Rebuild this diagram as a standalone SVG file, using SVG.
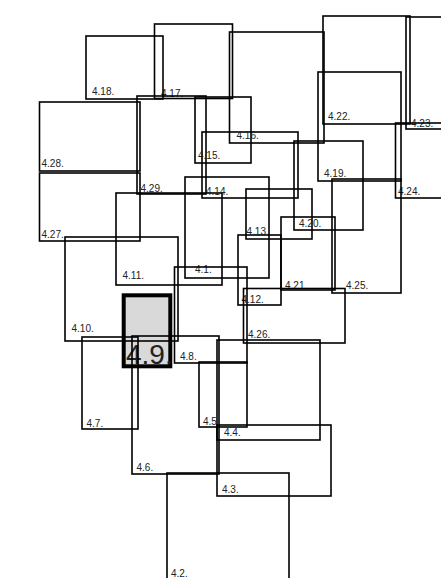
<svg xmlns="http://www.w3.org/2000/svg" width="441" height="578" viewBox="0 0 441 578">
<style>
.b{fill:none;stroke:#000;stroke-width:1.6}
.t{font-family:"Liberation Sans",Arial,sans-serif;font-size:10px;fill:#222}
.hb{fill:#d9d9d9;stroke:#000;stroke-width:4}
.ht{font-family:"Liberation Sans",Arial,sans-serif;font-size:28px;fill:#222}
</style>
<rect width="441" height="578" fill="#fff"/>
<g id="n4-9"><rect class="hb" x="123.7" y="295.3" width="46.6" height="71"/><text class="ht" x="126" y="364">4.9.</text></g>
<g id="n4-1"><rect class="b" x="185" y="177" width="84" height="101"/><text class="t" x="195" y="273">4.1.</text></g>
<g id="n4-2"><rect class="b" x="167" y="473" width="122" height="109"/><text class="t" x="171" y="577">4.2.</text></g>
<g id="n4-3"><rect class="b" x="217" y="425" width="114" height="71"/><text class="t" x="222" y="493">4.3.</text></g>
<g id="n4-4"><rect class="b" x="217" y="340" width="103" height="100"/><text class="t" x="224" y="436">4.4.</text></g>
<g id="n4-5"><rect class="b" x="199" y="362" width="48" height="65"/><text class="t" x="203" y="425">4.5.</text></g>
<g id="n4-6"><rect class="b" x="132" y="336" width="87" height="138"/><text class="t" x="136.5" y="471">4.6.</text></g>
<g id="n4-7"><rect class="b" x="82" y="337" width="56" height="92"/><text class="t" x="86.5" y="427">4.7.</text></g>
<g id="n4-8"><rect class="b" x="174.5" y="267" width="72.5" height="96"/><text class="t" x="180" y="360">4.8.</text></g>
<g id="n4-10"><rect class="b" x="65" y="237" width="113" height="104"/><text class="t" x="71.5" y="332">4.10.</text></g>
<g id="n4-11"><rect class="b" x="116" y="193" width="106" height="92"/><text class="t" x="122.5" y="279">4.11.</text></g>
<g id="n4-12"><rect class="b" x="238" y="235" width="43" height="70"/><text class="t" x="241.5" y="303">4.12.</text></g>
<g id="n4-13"><rect class="b" x="246" y="189" width="66" height="50"/><text class="t" x="246.5" y="235">4.13.</text></g>
<g id="n4-14"><rect class="b" x="202" y="132" width="96" height="66"/><text class="t" x="206" y="195">4.14.</text></g>
<g id="n4-15"><rect class="b" x="195" y="97" width="56" height="66"/><text class="t" x="198" y="159">4.15.</text></g>
<g id="n4-16"><rect class="b" x="229.5" y="32" width="94.5" height="111"/><text class="t" x="236.5" y="139">4.16.</text></g>
<g id="n4-17"><rect class="b" x="154.5" y="24" width="78" height="74.5"/><text class="t" x="161" y="96.5">4.17.</text></g>
<g id="n4-18"><rect class="b" x="86" y="36" width="77" height="63"/><text class="t" x="92" y="95">4.18.</text></g>
<g id="n4-19"><rect class="b" x="318" y="72" width="83" height="109"/><text class="t" x="324" y="177">4.19.</text></g>
<g id="n4-20"><rect class="b" x="294" y="141" width="69" height="89"/><text class="t" x="299" y="227">4.20.</text></g>
<g id="n4-21"><rect class="b" x="281" y="217" width="54" height="73"/><text class="t" x="285" y="289">4.21.</text></g>
<g id="n4-22"><rect class="b" x="323" y="16" width="87" height="108"/><text class="t" x="328" y="120">4.22.</text></g>
<g id="n4-23"><rect class="b" x="406" y="17" width="54" height="112"/><text class="t" x="411" y="127">4.23.</text></g>
<g id="n4-24"><rect class="b" x="395.5" y="123" width="64.5" height="75"/><text class="t" x="398" y="195">4.24.</text></g>
<g id="n4-25"><rect class="b" x="332" y="179" width="69" height="114"/><text class="t" x="346" y="289">4.25.</text></g>
<g id="n4-26"><rect class="b" x="243.5" y="288.5" width="101.5" height="54.5"/><text class="t" x="248" y="338">4.26.</text></g>
<g id="n4-27"><rect class="b" x="39.5" y="173" width="100.5" height="68"/><text class="t" x="41.5" y="238">4.27.</text></g>
<g id="n4-28"><rect class="b" x="39.5" y="102" width="100.5" height="69"/><text class="t" x="41.5" y="167">4.28.</text></g>
<g id="n4-29"><rect class="b" x="137" y="96" width="69" height="98"/><text class="t" x="140.5" y="192">4.29.</text></g>
<g id="connectors"></g>
</svg>
